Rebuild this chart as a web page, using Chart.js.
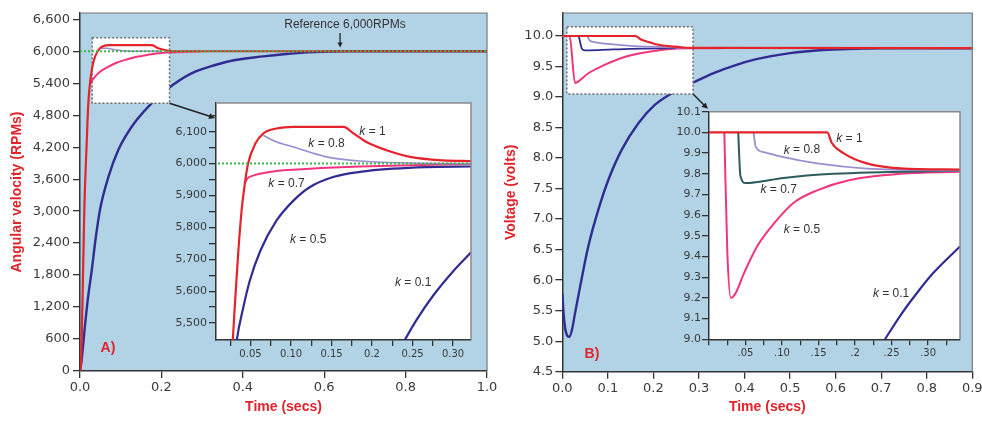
<!DOCTYPE html>
<html><head><meta charset="utf-8">
<script src="https://cdn.jsdelivr.net/npm/chart.js@4.4.1/dist/chart.umd.min.js"></script>
<style>
html,body{margin:0;padding:0;background:#fff;}
#wrap{position:relative;width:982px;height:422px;overflow:hidden;background:#fff;}
canvas{position:absolute;}
</style></head><body>
<div id="wrap">
<canvas id="mainA" width="505" height="422" style="left:0;top:0"></canvas>
<canvas id="mainB" width="491" height="422" style="left:491px;top:0"></canvas>
<canvas id="insetA" width="320" height="275" style="left:160px;top:95px"></canvas>
<canvas id="insetB" width="315" height="270" style="left:660px;top:100px"></canvas>
</div>
<script>
// ---------- Panel A (angular velocity) main data ----------
const tA_k1  = [0, 0.0025, 0.0057, 0.0106, 0.0164, 0.0204, 0.029, 0.037, 0.049, 0.07, 0.177, 0.192, 0.217, 0.235, 1.0];
const vA_k1  = [0, 144, 1145, 3021, 4270, 5020, 5648, 5898, 6055, 6117, 6117, 6055, 6010, 6000, 6000];
const tA_k08 = [0.05, 0.065, 0.09, 0.115, 0.15, 0.2];
const vA_k08 = [6060, 6055, 6025, 6005, 6000, 6000];
const tA_k07 = [0.025, 0.037, 0.05, 0.07, 0.09, 0.111, 0.13, 0.152, 0.18, 0.217, 0.26, 0.3];
const vA_k07 = [5400, 5525, 5620, 5713, 5785, 5838, 5880, 5913, 5950, 5976, 5992, 6000];
const tA_k01 = [0, 0.004, 0.012, 0.02, 0.029, 0.037, 0.049, 0.07, 0.094, 0.127, 0.168, 0.217, 0.274, 0.332, 0.381, 0.45, 0.5, 0.55, 0.6, 0.65, 1.0];
const vA_k01 = [0, 206, 831, 1394, 1895, 2402, 3021, 3646, 4147, 4584, 4960, 5305, 5586, 5742, 5836, 5904, 5945, 5975, 5990, 6000, 6000];
const tRef = [0, 1];
const vRef = [6000, 6000];

// ---------- Panel A inset data ----------
const tAi_k1  = [0.026, 0.028, 0.031, 0.035, 0.039, 0.043, 0.047, 0.056, 0.066, 0.082, 0.103, 0.165, 0.177, 0.193, 0.218, 0.247, 0.288, 0.322];
const vAi_k1  = [5400, 5445, 5569, 5726, 5853, 5937, 6000, 6063, 6095, 6110, 6115, 6115, 6095, 6068, 6042, 6021, 6010, 6008];
const tAi_k08 = [0.066, 0.08, 0.103, 0.144, 0.185, 0.247, 0.322];
const vAi_k08 = [6088, 6070, 6052, 6021, 6008, 6002, 6000];
const tAi_k07 = [0.043, 0.046, 0.054, 0.082, 0.123, 0.185, 0.262, 0.322];
const vAi_k07 = [5940, 5953, 5963, 5977, 5984, 5991, 5996, 5999];
const tAi_k05 = [0.032, 0.033, 0.041, 0.049, 0.062, 0.082, 0.103, 0.123, 0.152, 0.185, 0.226, 0.267, 0.322];
const vAi_k05 = [5420, 5445, 5548, 5632, 5726, 5821, 5884, 5926, 5958, 5974, 5984, 5989, 5991];
const tAi_k01 = [0.236, 0.24, 0.255, 0.276, 0.300, 0.322];
const vAi_k01 = [5427, 5445, 5510, 5588, 5662, 5721];

// ---------- Panel B (voltage) main data ----------
const tB_k1  = [0, 0.16, 0.174, 0.19, 0.203, 0.22, 0.24, 0.26, 0.28, 0.9];
const vB_k1  = [10, 10, 9.94, 9.9, 9.87, 9.845, 9.83, 9.815, 9.805, 9.8];
const tB_k08 = [0.055, 0.06, 0.07, 0.1, 0.15, 0.22, 0.3];
const vB_k08 = [10.0, 9.93, 9.9, 9.87, 9.84, 9.82, 9.8];
const tB_k07 = [0.036, 0.044, 0.05, 0.08, 0.15, 0.25];
const vB_k07 = [10.0, 9.78, 9.765, 9.77, 9.79, 9.8];
const tB_k05 = [0, 0.016, 0.028, 0.034, 0.057, 0.094, 0.13, 0.174, 0.225, 0.28, 0.35];
const vB_k05 = [10, 10, 9.23, 9.25, 9.39, 9.53, 9.64, 9.72, 9.78, 9.8, 9.8];
const tB_k01 = [0, 0.004, 0.01, 0.015, 0.021, 0.028, 0.039, 0.057, 0.079, 0.101, 0.13, 0.167, 0.203, 0.247, 0.291, 0.335, 0.379, 0.426, 0.5, 0.572, 0.646, 0.7, 0.9];
const vB_k01 = [5.78, 5.35, 5.10, 5.07, 5.18, 5.46, 5.89, 6.55, 7.15, 7.64, 8.13, 8.57, 8.87, 9.09, 9.25, 9.40, 9.52, 9.62, 9.72, 9.77, 9.79, 9.8, 9.8];

// ---------- Panel B inset data ----------
const tBi_k1  = [0, 0.162, 0.168, 0.184, 0.216, 0.262, 0.344];
const vBi_k1  = [10.0, 10.0, 9.95, 9.90, 9.85, 9.826, 9.82];
const tBi_k08 = [0.061, 0.064, 0.075, 0.102, 0.148, 0.216, 0.344];
const vBi_k08 = [10.0, 9.93, 9.905, 9.88, 9.85, 9.825, 9.815];
const tBi_k07 = [0.04, 0.043, 0.05, 0.066, 0.102, 0.171, 0.344];
const vBi_k07 = [10.0, 9.79, 9.755, 9.76, 9.78, 9.80, 9.815];
const tBi_k05 = [0.021, 0.025, 0.030, 0.036, 0.048, 0.066, 0.089, 0.116, 0.148, 0.193, 0.262, 0.344];
const vBi_k05 = [10.0, 9.43, 9.2, 9.22, 9.32, 9.45, 9.56, 9.66, 9.72, 9.77, 9.80, 9.81];
const tBi_k01 = [0.238, 0.241, 0.262, 0.285, 0.307, 0.344];
const vBi_k01 = [8.983, 9.0, 9.115, 9.225, 9.32, 9.45];

// ---------- Tick values and labels ----------
const aXTicks = [0, 0.2, 0.4, 0.6, 0.8, 1.0];
const aXLabels = ['0.0', '0.2', '0.4', '0.6', '0.8', '1.0'];
const aYTicks = [0, 600, 1200, 1800, 2400, 3000, 3600, 4200, 4800, 5400, 6000, 6600];
const aYLabels = ['0', '600', '1,200', '1,800', '2,400', '3,000', '3,600', '4,200', '4,800', '5,400', '6,000', '6,600'];
const bXTicks = [0, 0.1, 0.2, 0.3, 0.4, 0.5, 0.6, 0.7, 0.8, 0.9];
const bXLabels = ['0.0', '0.1', '0.2', '0.3', '0.4', '0.5', '0.6', '0.7', '0.8', '0.9'];
const bYTicks = [4.5, 5.0, 5.5, 6.0, 6.5, 7.0, 7.5, 8.0, 8.5, 9.0, 9.5, 10.0];
const bYLabels = ['4.5', '5.0', '5.5', '6.0', '6.5', '7.0', '7.5', '8.0', '8.5', '9.0', '9.5', '10.0'];
const aiXTicks = [0.025, 0.05, 0.075, 0.1, 0.125, 0.15, 0.175, 0.2, 0.225, 0.25, 0.275, 0.3];
const aiXLabels = ['', '0.05', '', '0.10', '', '0.15', '', '0.2', '', '0.25', '', '0.30'];
const aiYTicks = [5500, 5550, 5600, 5650, 5700, 5750, 5800, 5850, 5900, 5950, 6000, 6050, 6100, 6150];
const aiYLabels = ['5,500', '', '5,600', '', '5,700', '', '5,800', '', '5,900', '', '6,000', '', '6,100', ''];
const biXTicks = [0, 0.025, 0.05, 0.075, 0.1, 0.125, 0.15, 0.175, 0.2, 0.225, 0.25, 0.275, 0.3, 0.325];
const biXLabels = ['', '', '.05', '', '.10', '', '.15', '', '.2', '', '.25', '', '.30', ''];
const biYTicks = [9.0, 9.1, 9.2, 9.3, 9.4, 9.5, 9.6, 9.7, 9.8, 9.9, 10.0, 10.1];
const biYLabels = ['9.0', '9.1', '9.2', '9.3', '9.4', '9.5', '9.6', '9.7', '9.8', '9.9', '10.0', '10.1'];

// ---------- styling ----------
const RED = '#e3232c';
const BLUE_BG = '#b2d3e6';
const C_RED = '#e4232b', C_PINK = '#f2347e', C_PURPLE = '#9a8dd0', C_NAVY = '#302c92', C_TEAL = '#2b5d60', C_GREEN = '#3cb54a';
Chart.defaults.font.family = "'DejaVu Sans', sans-serif";
Chart.defaults.animation = false;

function pts(ts, vs) { return ts.map((t, i) => ({x: t, y: vs[i]})); }
function line(label, ts, vs, color, width, order, extra) {
  return Object.assign({label, data: pts(ts, vs), borderColor: color, backgroundColor: color, borderWidth: width,
    pointRadius: 0, fill: false, tension: 0.4, cubicInterpolationMode: 'monotone', order}, extra || {});
}
function mkScale(o) {
  return {
    type: 'linear', min: o.min, max: o.max,
    afterBuildTicks: s => { s.ticks = o.ticks.map(v => ({value: v})); },
    afterFit: s => {
      if (s.isHorizontal()) s.height = o.size; else s.width = o.size;
      s.paddingLeft = 0; s.paddingRight = 0; s.paddingTop = 0; s.paddingBottom = 0;
    },
    ticks: {callback: (v, i) => o.labels[i], color: '#3a3a3a', font: {size: o.fontSize}, padding: o.pad,
      autoSkip: false, maxRotation: 0, minRotation: 0},
    grid: {display: true, drawOnChartArea: false, drawTicks: true, tickLength: o.tickLen, color: '#333', lineWidth: 1.3},
    border: {display: true, color: '#333', width: 1.5},
    title: o.title ? {display: true, text: o.title, color: RED,
      font: {family: "'Liberation Sans', sans-serif", size: 14, weight: 'bold'}, padding: o.titlePad} : {display: false}
  };
}
function fillArea(c, color) {
  const {ctx, chartArea: a} = c;
  ctx.save(); ctx.fillStyle = color; ctx.fillRect(a.left, a.top, a.right - a.left, a.bottom - a.top); ctx.restore();
}
function frame(c, color, w) {
  const {ctx, chartArea: a} = c;
  ctx.save(); ctx.strokeStyle = color; ctx.lineWidth = w;
  ctx.beginPath(); ctx.moveTo(a.left, a.top); ctx.lineTo(a.right, a.top); ctx.lineTo(a.right, a.bottom); ctx.stroke();
  ctx.restore();
}
function zoomBox(c, x0, x1, y0, y1) {
  const {ctx, scales: {x, y}} = c;
  const L = x.getPixelForValue(x0), R = x.getPixelForValue(x1), T = y.getPixelForValue(y1), B = y.getPixelForValue(y0);
  ctx.save(); ctx.fillStyle = '#fff'; ctx.fillRect(L, T, R - L, B - T);
  ctx.setLineDash([2, 2]); ctx.strokeStyle = '#6f6f6f'; ctx.lineWidth = 1.5; ctx.strokeRect(L, T, R - L, B - T);
  ctx.restore();
}
function arrow(ctx, x0, y0, x1, y1, w, h) {
  ctx.save(); ctx.strokeStyle = '#222'; ctx.fillStyle = '#222'; ctx.lineWidth = w; ctx.setLineDash([]);
  const a = Math.atan2(y1 - y0, x1 - x0), ca = Math.cos(a), sa = Math.sin(a);
  ctx.beginPath(); ctx.moveTo(x0, y0); ctx.lineTo(x1 - ca * h * 0.8, y1 - sa * h * 0.8); ctx.stroke();
  ctx.beginPath(); ctx.moveTo(x1, y1);
  ctx.lineTo(x1 - h * ca + h * 0.5 * sa, y1 - h * sa - h * 0.5 * ca);
  ctx.lineTo(x1 - h * ca - h * 0.5 * sa, y1 - h * sa + h * 0.5 * ca);
  ctx.closePath(); ctx.fill(); ctx.restore();
}
function kLabels(c, items) {
  const {ctx, scales: {x, y}} = c;
  ctx.save(); ctx.fillStyle = '#333'; ctx.textBaseline = 'middle'; ctx.textAlign = 'left';
  items.forEach(([tx, ty, txt]) => {
    const px = x.getPixelForValue(tx), py = y.getPixelForValue(ty);
    ctx.font = "italic 12px 'Liberation Sans', sans-serif";
    ctx.fillText('k', px, py);
    const w = ctx.measureText('k').width;
    ctx.font = "12px 'Liberation Sans', sans-serif";
    ctx.fillText(' = ' + txt, px + w, py);
  });
  ctx.restore();
}
const baseOpts = {responsive: false, animation: false, events: [],
  plugins: {legend: {display: false}, tooltip: {enabled: false}}};

// ---------- Panel A main ----------
new Chart(document.getElementById('mainA'), {
  type: 'line',
  data: {datasets: [
    line('Reference', tRef, vRef, C_GREEN, 2, 0, {borderDash: [2, 2], tension: 0}),
    line('k = 1', tA_k1, vA_k1, C_RED, 2.2, 1),
    line('k = 0.8', tA_k08, vA_k08, C_PURPLE, 1.5, 2),
    line('k = 0.7', tA_k07, vA_k07, C_PINK, 2, 3),
    line('k = 0.1', tA_k01, vA_k01, C_NAVY, 2.4, 9)
  ]},
  options: Object.assign({}, baseOpts, {
    layout: {padding: {left: 0, right: 18, top: 13, bottom: 0}},
    scales: {
      x: mkScale({min: 0, max: 1, ticks: aXTicks, labels: aXLabels, size: 51, tickLen: 7, pad: 2, fontSize: 13,
        title: 'Time (secs)', titlePad: {top: 0, bottom: 6.6}}),
      y: mkScale({min: 0, max: 6718, ticks: aYTicks, labels: aYLabels, size: 80, tickLen: 7, pad: 3, fontSize: 13,
        title: 'Angular velocity (RPMs)', titlePad: {top: 9, bottom: 0}})
    }
  }),
  plugins: [{
    id: 'panelA',
    beforeDraw(c) { fillArea(c, BLUE_BG); },
    afterDatasetDraw(c, args) { if (args.index === 4) zoomBox(c, 0.03, 0.22, 5025, 6255); },
    afterDraw(c) {
      frame(c, '#777', 1.2);
      const {ctx, scales: {x, y}} = c;
      ctx.save();
      ctx.fillStyle = '#333'; ctx.font = "12px 'Liberation Sans', sans-serif"; ctx.textAlign = 'center'; ctx.textBaseline = 'middle';
      ctx.fillText('Reference 6,000RPMs', x.getPixelForValue(0.651), y.getPixelForValue(6493));
      arrow(ctx, x.getPixelForValue(0.639), y.getPixelForValue(6343), x.getPixelForValue(0.639), y.getPixelForValue(6070), 1.3, 5);
      ctx.fillStyle = RED; ctx.font = "bold 14px 'Liberation Sans', sans-serif";
      ctx.fillText('A)', x.getPixelForValue(0.0688), y.getPixelForValue(432));
      arrow(ctx, x.getPixelForValue(0.22), y.getPixelForValue(5025), x.getPixelForValue(0.3317), y.getPixelForValue(4747), 1.5, 6);
      ctx.restore();
    }
  }]
});

// ---------- Panel B main ----------
new Chart(document.getElementById('mainB'), {
  type: 'line',
  data: {datasets: [
    line('k = 1', tB_k1, vB_k1, C_RED, 2.2, 0),
    line('k = 0.8', tB_k08, vB_k08, C_PURPLE, 1.8, 1),
    line('k = 0.7', tB_k07, vB_k07, C_NAVY, 1.8, 2),
    line('k = 0.5', tB_k05, vB_k05, C_PINK, 2, 3),
    line('k = 0.1', tB_k01, vB_k01, C_NAVY, 2.4, 9)
  ]},
  options: Object.assign({}, baseOpts, {
    layout: {padding: {left: 0, right: 9.7, top: 13, bottom: 0}},
    scales: {
      x: mkScale({min: 0, max: 0.9, ticks: bXTicks, labels: bXLabels, size: 50.3, tickLen: 7, pad: 2, fontSize: 13,
        title: 'Time (secs)', titlePad: {top: 0, bottom: 6.6}}),
      y: mkScale({min: 4.5, max: 10.377, ticks: bYTicks, labels: bYLabels, size: 71.3, tickLen: 7, pad: 2, fontSize: 13,
        title: 'Voltage (volts)', titlePad: {top: 11.6, bottom: 0}})
    }
  }),
  plugins: [{
    id: 'panelB',
    beforeDraw(c) { fillArea(c, BLUE_BG); },
    afterDatasetDraw(c, args) { if (args.index === 4) zoomBox(c, 0.01, 0.287, 9.05, 10.15); },
    afterDraw(c) {
      frame(c, '#777', 1.2);
      const {ctx, scales: {x, y}} = c;
      ctx.save();
      ctx.fillStyle = RED; ctx.font = "bold 14px 'Liberation Sans', sans-serif"; ctx.textAlign = 'center'; ctx.textBaseline = 'middle';
      ctx.fillText('B)', x.getPixelForValue(0.065), y.getPixelForValue(4.79));
      arrow(ctx, x.getPixelForValue(0.287), y.getPixelForValue(9.05), x.getPixelForValue(0.3195), y.getPixelForValue(8.807), 1.5, 6);
      ctx.restore();
    }
  }]
});

// ---------- Panel A inset ----------
new Chart(document.getElementById('insetA'), {
  type: 'line',
  data: {datasets: [
    line('Reference', tRef, vRef, C_GREEN, 2, 0, {borderDash: [2, 2], tension: 0}),
    line('k = 1', tAi_k1, vAi_k1, C_RED, 2.2, 1),
    line('k = 0.8', tAi_k08, vAi_k08, C_PURPLE, 1.6, 2),
    line('k = 0.7', tAi_k07, vAi_k07, C_PINK, 2, 3),
    line('k = 0.5', tAi_k05, vAi_k05, C_NAVY, 2.2, 4),
    line('k = 0.1', tAi_k01, vAi_k01, C_NAVY, 2.2, 5)
  ]},
  options: Object.assign({}, baseOpts, {
    layout: {padding: {left: 0, right: 9, top: 8, bottom: 0}},
    scales: {
      x: mkScale({min: 0.0074, max: 0.3222, ticks: aiXTicks, labels: aiXLabels, size: 30, tickLen: 6, pad: 2, fontSize: 10}),
      y: mkScale({min: 5447, max: 6190, ticks: aiYTicks, labels: aiYLabels, size: 56, tickLen: 7, pad: 2, fontSize: 11})
    }
  }),
  plugins: [{
    id: 'insetA',
    beforeDraw(c) { fillArea(c, '#fff'); },
    afterDraw(c) {
      frame(c, '#8a8a8a', 1.5);
      kLabels(c, [[0.1843, 6100, '1'], [0.1214, 6063, '0.8'], [0.072, 5937, '0.7'], [0.0988, 5763, '0.5'], [0.2284, 5627, '0.1']]);
    }
  }]
});

// ---------- Panel B inset ----------
new Chart(document.getElementById('insetB'), {
  type: 'line',
  data: {datasets: [
    line('k = 1', tBi_k1, vBi_k1, C_RED, 2.2, 0),
    line('k = 0.8', tBi_k08, vBi_k08, C_PURPLE, 1.8, 1),
    line('k = 0.7', tBi_k07, vBi_k07, C_TEAL, 2, 2),
    line('k = 0.5', tBi_k05, vBi_k05, C_PINK, 2, 3),
    line('k = 0.1', tBi_k01, vBi_k01, C_NAVY, 2.2, 4)
  ]},
  options: Object.assign({}, baseOpts, {
    layout: {padding: {left: 0, right: 15, top: 11.7, bottom: 0}},
    scales: {
      x: mkScale({min: 0, max: 0.3437, ticks: biXTicks, labels: biXLabels, size: 30.7, tickLen: 6, pad: 2, fontSize: 10}),
      y: mkScale({min: 9.0, max: 10.1, ticks: biYTicks, labels: biYLabels, size: 49, tickLen: 7, pad: 1, fontSize: 11})
    }
  }),
  plugins: [{
    id: 'insetB',
    beforeDraw(c) { fillArea(c, '#fff'); },
    afterDraw(c) {
      frame(c, '#8a8a8a', 1.5);
      kLabels(c, [[0.1743, 9.971, '1'], [0.1023, 9.914, '0.8'], [0.0705, 9.721, '0.7'], [0.1023, 9.528, '0.5'], [0.2244, 9.222, '0.1']]);
    }
  }]
});
</script>
</body></html>
